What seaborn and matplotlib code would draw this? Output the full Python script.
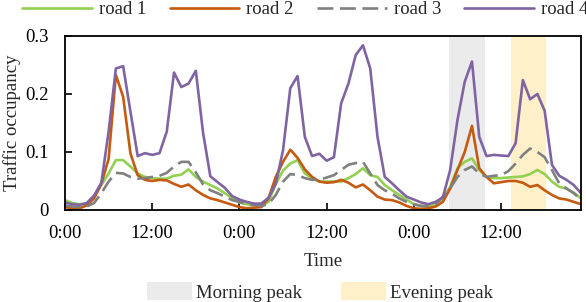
import pandas as pd
import seaborn as sns
import matplotlib.pyplot as plt
from matplotlib.patches import Patch

# hourly samples over three days
hours = list(range(72))

road1 = [0.017, 0.012, 0.010, 0.011, 0.023, 0.043, 0.063, 0.086, 0.086, 0.075, 0.063, 0.057,
         0.055, 0.054, 0.054, 0.059, 0.061, 0.070, 0.057, 0.049, 0.043, 0.037, 0.029, 0.020,
         0.013, 0.010, 0.008, 0.007, 0.014, 0.045, 0.068, 0.080, 0.086, 0.063, 0.055, 0.049,
         0.049, 0.049, 0.049, 0.055, 0.062, 0.072, 0.060, 0.057, 0.043, 0.034, 0.026, 0.018,
         0.010, 0.007, 0.006, 0.010, 0.020, 0.040, 0.072, 0.083, 0.089, 0.069, 0.057, 0.055,
         0.055, 0.056, 0.057, 0.058, 0.062, 0.069, 0.062, 0.049, 0.040, 0.037, 0.030, 0.020]
road2 = [0.005, 0.003, 0.003, 0.008, 0.020, 0.045, 0.088, 0.233, 0.195, 0.098, 0.060, 0.052,
         0.050, 0.052, 0.051, 0.045, 0.040, 0.044, 0.034, 0.026, 0.020, 0.017, 0.013, 0.009,
         0.005, 0.003, 0.004, 0.005, 0.020, 0.057, 0.083, 0.104, 0.090, 0.070, 0.057, 0.049,
         0.047, 0.048, 0.052, 0.047, 0.039, 0.044, 0.034, 0.023, 0.018, 0.017, 0.013, 0.007,
         0.003, 0.002, 0.003, 0.006, 0.014, 0.037, 0.069, 0.100, 0.145, 0.072, 0.057, 0.046,
         0.048, 0.050, 0.050, 0.047, 0.040, 0.043, 0.034, 0.026, 0.020, 0.018, 0.014, 0.010]
road3 = [0.008, 0.006, 0.005, 0.006, 0.012, 0.029, 0.049, 0.064, 0.063, 0.057, 0.054, 0.055,
         0.057, 0.059, 0.064, 0.075, 0.083, 0.083, 0.065, 0.044, 0.034, 0.029, 0.023, 0.017,
         0.014, 0.010, 0.009, 0.007, 0.010, 0.026, 0.049, 0.062, 0.060, 0.055, 0.052, 0.052,
         0.056, 0.060, 0.069, 0.078, 0.081, 0.083, 0.063, 0.043, 0.034, 0.028, 0.020, 0.014,
         0.010, 0.007, 0.007, 0.010, 0.023, 0.037, 0.057, 0.069, 0.075, 0.063, 0.057, 0.059,
         0.060, 0.067, 0.080, 0.095, 0.106, 0.100, 0.091, 0.069, 0.046, 0.037, 0.029, 0.018]
road4 = [0.013, 0.010, 0.009, 0.012, 0.025, 0.047, 0.135, 0.244, 0.248, 0.170, 0.093, 0.098,
         0.095, 0.098, 0.135, 0.237, 0.212, 0.218, 0.240, 0.133, 0.058, 0.048, 0.038, 0.024,
         0.018, 0.014, 0.011, 0.011, 0.021, 0.045, 0.103, 0.210, 0.231, 0.126, 0.093, 0.097,
         0.085, 0.091, 0.184, 0.218, 0.267, 0.284, 0.244, 0.126, 0.057, 0.046, 0.034, 0.023,
         0.018, 0.013, 0.010, 0.014, 0.022, 0.069, 0.155, 0.221, 0.256, 0.126, 0.093, 0.095,
         0.094, 0.093, 0.115, 0.224, 0.191, 0.200, 0.171, 0.078, 0.059, 0.052, 0.043, 0.029]

road_names = ['road 1', 'road 2', 'road 3', 'road 4']
tick_pos = [0, 12, 24, 36, 48, 60]
tick_labels = ['0:00', '12:00', '0:00', '12:00', '0:00', '12:00']
morning = (52.85, 57.8)
evening = (61.35, 66.2)

colors = {'road 1': '#92d050', 'road 2': '#c55a11', 'road 3': '#808080', 'road 4': '#8064a2'}
dash_map = {'road 1': '', 'road 2': '', 'road 3': (6, 2.5), 'road 4': ''}

sns.set_style('ticks')
plt.rcParams['font.family'] = ['Liberation Serif', 'DejaVu Serif']
plt.rcParams['font.size'] = 13.5

df = pd.DataFrame({
    'hour': hours * 4,
    'occ': road1 + road2 + road3 + road4,
    'road': [r for r in road_names for _ in hours],
})

fig = plt.figure(figsize=(5.86, 3.02), dpi=100)
ax = fig.add_axes([65 / 586, 1 - 210 / 302, 516 / 586, 174 / 302])

ax.axvspan(*morning, color='#ebebeb', lw=0, zorder=0)
ax.axvspan(*evening, color='#fff0c9', lw=0, zorder=0)

sns.lineplot(data=df, x='hour', y='occ', hue='road', style='road',
             palette=colors, dashes=dash_map, lw=1.9, errorbar=None,
             legend=False, ax=ax)

ax.set_xlim(0, 71)
ax.set_ylim(0, 0.3)
ax.set_xticks(tick_pos)
ax.set_xticklabels(tick_labels)
ax.set_yticks([0, 0.1, 0.2, 0.3])
ax.set_yticklabels(['0', '0.1', '0.2', '0.3'])
ax.tick_params(axis='both', direction='in', length=5, width=1.2, colors='black')
ax.tick_params(axis='y', pad=12)
ax.tick_params(axis='x', pad=11)
for sp in ax.spines.values():
    sp.set_visible(True)
    sp.set_color('black')
    sp.set_linewidth(1.3)

ax.set_xlabel('Time', labelpad=8)
ax.set_ylabel('Traffic occupancy', labelpad=3)

handles = ax.lines[:4]
fig.legend(handles, road_names, loc='center', bbox_to_anchor=(0.521, 0.968),
           ncol=4, frameon=False, handlelength=3.73, handletextpad=0.37,
           columnspacing=1.23, borderpad=0)

peak_handles = [Patch(facecolor='#ebebeb', edgecolor='none'),
                Patch(facecolor='#fff0c9', edgecolor='none')]
fig.legend(peak_handles, ['Morning peak', 'Evening peak'], loc='center',
           bbox_to_anchor=(0.546, 0.033), ncol=2, frameon=False,
           handlelength=2.4, handleheight=1.1, handletextpad=0.2,
           columnspacing=2.1, borderpad=0)

fig.savefig('out.png', dpi=100)
